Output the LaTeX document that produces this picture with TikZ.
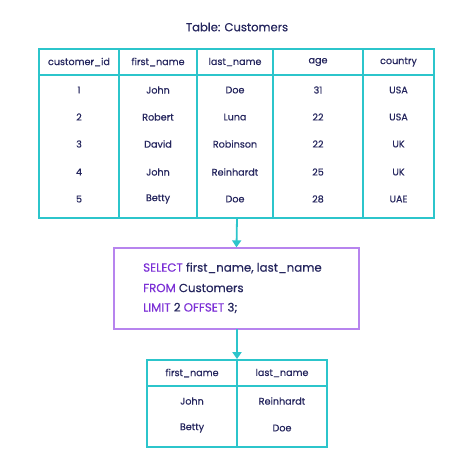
\documentclass[tikz,border=0pt]{standalone}
\usepackage{fontspec}
\setmainfont{Poppins}[FakeBold=0.35]
\usetikzlibrary{arrows.meta}
\definecolor{cy}{HTML}{2CC5CB}
\definecolor{pu}{HTML}{B784EE}
\definecolor{kw}{HTML}{7B2FD6}
\definecolor{tx}{HTML}{25265E}
\tikzset{
  cell/.style={font=\fontsize{9.6}{11}\selectfont, text=tx, inner sep=0pt, anchor=center},
  frame/.style={draw=cy, line width=1.8pt, inner sep=0pt},
  grid/.style={draw=cy, line width=1.8pt},
  link/.style={draw=cy, line width=1.8pt, -{Triangle[length=7pt,width=9pt]}},
  code/.style={font=\fontsize{11.8}{14}\selectfont, text=tx, inner sep=0pt, anchor=west},
  key/.style={text=kw}
}
\begin{document}
\begin{tikzpicture}[x=1pt,y=-1pt]
\useasboundingbox[fill=white] (0,0) rectangle (474,471);
\node[cell, font=\fontsize{11.6}{14}\selectfont] (title) at (237,27) {Table: Customers};
% top table
\node[frame, minimum width=395pt, minimum height=169pt] (T) at (236.5,133.5) {};
\draw[grid] (39,75) -- (434,75);
\foreach \x in {119,197,273,363} \draw[grid] (\x,49) -- (\x,218);
\node[cell] (h1) at (79,62) {customer\_id};
\node[cell] (h2) at (158,62) {first\_name};
\node[cell] (h3) at (235,62) {last\_name};
\node[cell] (h4) at (318,62) {age};
\node[cell] (h5) at (398.5,62) {country};
\foreach \r/\y/\a/\b/\c/\d/\e in {1/90/1/John/Doe/31/USA, 2/117/2/Robert/Luna/22/USA, 3/144/3/David/Robinson/22/UK, 4/172/4/John/Reinhardt/25/UK, 5/199/5/Betty/Doe/28/UAE}{
  \node[cell] (r\r a) at (79,\y) {\a};
  \node[cell] (r\r b) at (158,\y) {\b};
  \node[cell] (r\r c) at (235,\y) {\c};
  \node[cell] (r\r d) at (318,\y) {\d};
  \node[cell] (r\r e) at (398.5,\y) {\e};
}
% query box
\node[draw=pu, line width=1.3pt, minimum width=245pt, minimum height=81pt, inner sep=0pt] (Q) at (236.5,288.5) {};
\node[code] (q1) at (143,268) {\textcolor{kw}{SELECT} first\_name, last\_name};
\node[code] (q2) at (143,288) {\textcolor{kw}{FROM} Customers};
\node[code] (q3) at (143,308) {\textcolor{kw}{LIMIT} 2 \textcolor{kw}{OFFSET} 3;};
% result table
\node[frame, minimum width=180pt, minimum height=87pt] (R) at (237,403.5) {};
\draw[grid] (147,386) -- (327,386);
\draw[grid] (237,360) -- (237,447);
\node[cell] (s1) at (192,373) {first\_name};
\node[cell] (s2) at (282,373) {last\_name};
\node[cell] (s3) at (192,401) {John};
\node[cell] (s4) at (282,401) {Reinhardt};
\node[cell] (s5) at (192,428) {Betty};
\node[cell] (s6) at (282,428) {Doe};
% connectors
\coordinate (t1) at (237,218);
\coordinate (b1) at (237,329);
\draw[link] (t1) -- (Q.north);
\draw[link] (b1) -- (R.north);
\end{tikzpicture}
\end{document}
